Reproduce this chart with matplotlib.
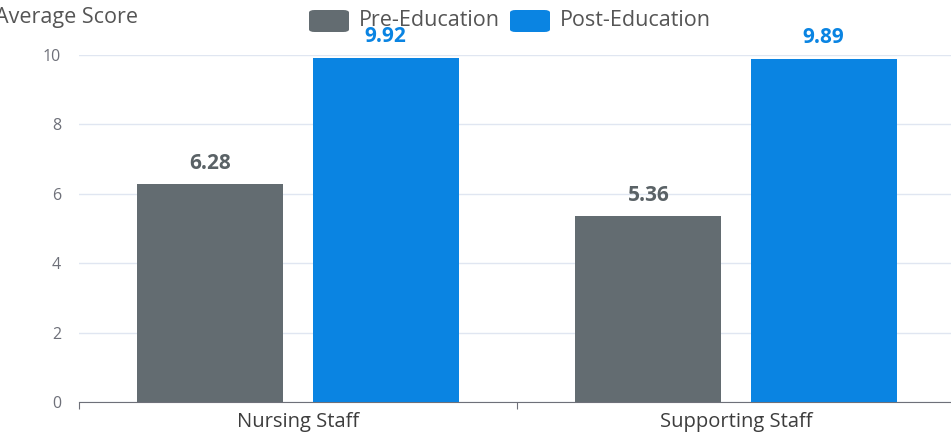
import matplotlib
matplotlib.use("Agg")
import matplotlib.pyplot as plt
from matplotlib.patches import FancyBboxPatch
import numpy as np

plt.rcParams['font.family'] = ['Open Sans', 'DejaVu Sans']

categories = ['Nursing Staff', 'Supporting Staff']
pre_scores = [6.28, 5.36]
post_scores = [9.92, 9.89]
series_names = ['Pre-Education', 'Post-Education']
y_ticks = [0, 2, 4, 6, 8, 10]

gray = '#636c71'
blue = '#0a84e2'

fig = plt.figure(figsize=(9.51, 4.40), dpi=100)
ax = fig.add_axes([79 / 951, 1 - 402 / 440, (955 - 79) / 951, (402 - 55) / 440])

x = np.arange(len(categories))
w = 0.333
ax.bar(x - 0.2, pre_scores, w, color=gray, zorder=3)
ax.bar(x + 0.2, post_scores, w, color=blue, zorder=3)

for i in range(len(categories)):
    ax.text(x[i] - 0.2, pre_scores[i] + 0.3, '%.2f' % pre_scores[i], ha='center', va='bottom',
            fontsize=15, fontweight='bold', color='#5a6266')
    ax.text(x[i] + 0.2, post_scores[i] + 0.3, '%.2f' % post_scores[i], ha='center', va='bottom',
            fontsize=15, fontweight='bold', color=blue)

ax.set_xlim(-0.5, 1.5)
ax.set_ylim(0, 10)
ax.set_yticks(y_ticks)
ax.grid(axis='y', color='#e0e6f1', linewidth=1, zorder=0)
for s in ['top', 'right', 'left']:
    ax.spines[s].set_visible(False)
ax.spines['bottom'].set_color('#6e7079')
ax.tick_params(axis='y', length=0, pad=13, labelsize=11.5, labelcolor='#6e7079')

# category labels between boundary ticks
ax.set_xticks([-0.5, 0.5, 1.5])
ax.set_xticklabels([])
ax.set_xticks(x, minor=True)
ax.set_xticklabels(categories, minor=True)
ax.tick_params(axis='x', which='major', length=5, color='#6e7079')
ax.tick_params(axis='x', which='minor', length=0, pad=7, labelsize=14.5, labelcolor='#3d3d3d')

fig.text(-0.005, 1 - 18 / 440, 'Average Score', fontsize=15.5, color='#555555', va='center', ha='left')

# legend
W, H = 951.0, 440.0
for x0, name, c in [(309, series_names[0], gray), (510, series_names[1], blue)]:
    box = FancyBboxPatch((x0 / W, 1 - 32 / H), 40 / W, 22 / H,
                         boxstyle='round,pad=0,rounding_size=0.006',
                         transform=fig.transFigure, facecolor=c, edgecolor='none')
    fig.patches.append(box)
    fig.text((x0 + 50) / W, 1 - 20 / H, name, fontsize=15.5, color='#555555', va='center', ha='left')

fig.savefig('out.png', dpi=100)
